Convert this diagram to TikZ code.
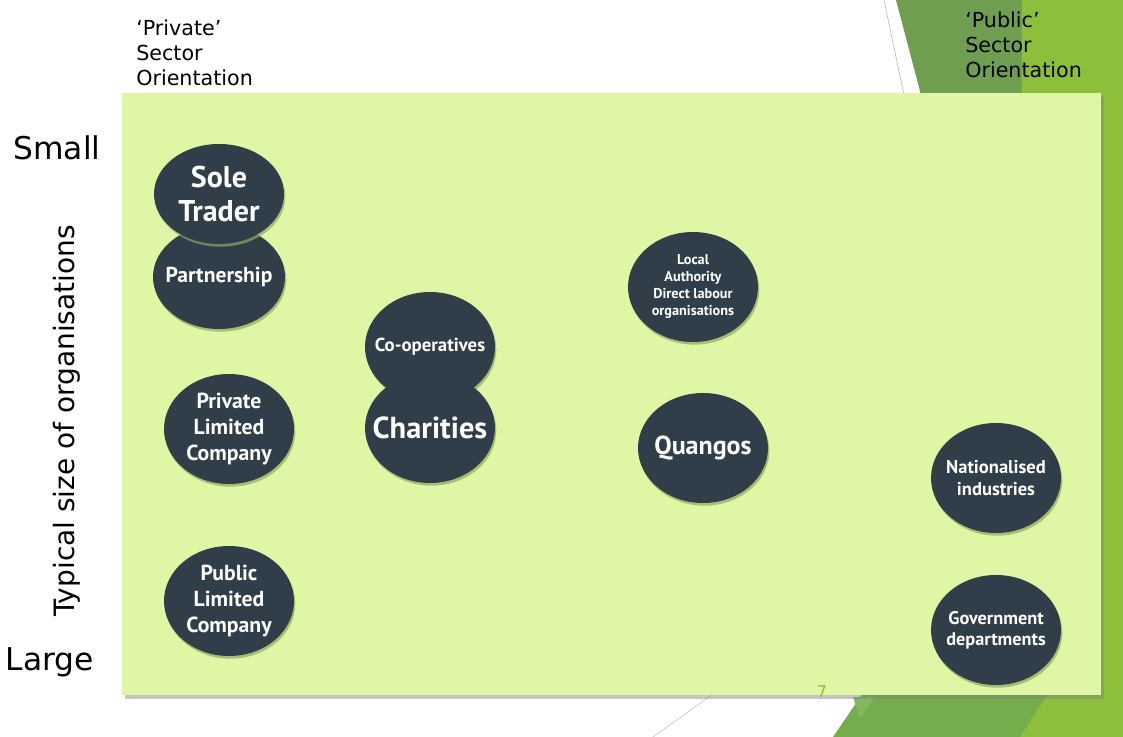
\documentclass[tikz,border=0pt]{standalone}
\usepackage{fontspec}
\setmainfont{DejaVu Sans}
\newfontfamily\ovalfont{PT Sans}
\usetikzlibrary{shapes.geometric,shadows}
\definecolor{slidelime}{HTML}{DFF7A5}
\definecolor{ovalslate}{HTML}{2F3E48}
\definecolor{leafdark}{HTML}{6F9E50}
\definecolor{leafmid}{HTML}{74AE4C}
\definecolor{leaflight}{HTML}{8DBF3A}
\definecolor{leafpale}{HTML}{82B85E}
\definecolor{shadegreen}{HTML}{8FA860}

\begin{document}
\begin{tikzpicture}[x=0.75pt,y=-0.75pt,
  orgoval/.style = {ellipse, fill=ovalslate, text=white, align=center,
    inner xsep=-12pt, inner ysep=0pt,
    minimum width=97.5pt, minimum height=82.5pt,
    drop shadow={shadow xshift=1pt, shadow yshift=-2pt, fill=shadegreen, opacity=0.7}},
  ovaltext/.style 2 args = {font=\ovalfont\bfseries\fontsize{#1}{#2}\selectfont},
  sidelabel/.style = {align=left, anchor=north west, inner sep=0pt,
    font=\fontsize{15.5}{18.4}\selectfont}]
\useasboundingbox (0,0) rectangle (1123,737);
\fill[white] (0,0) rectangle (1123,737);
% slide background
\draw[gray!60, thin] (884,0) -- (905,100);
\draw[gray!50, thin] (653,737) -- (716,692);
\fill[leafdark] (896,0) -- (1030,0) -- (1040,110) -- (925,110) -- cycle;
\fill[leaflight] (1022,0) -- (1123,0) -- (1123,737) -- (1020,737) -- cycle;
\fill[leafmid] (833,737) -- (865,690) -- (1050,690) -- (1020,737) -- cycle;
\fill[leafpale] (853,697) -- (875,697) -- (860,718) -- cycle;
% main panel
\fill[slidelime, drop shadow={shadow xshift=2pt, shadow yshift=-3pt, opacity=0.45}]
  (122,93) rectangle (1101,695);
\node[text=leaflight, font=\fontsize{12}{14}\selectfont] (pagenum) at (822,692) {7};
% axis labels
\node[sidelabel] (privlabel) at (136,20) {‘Private’\\Sector\\Orientation};
\node[sidelabel] (publabel) at (965,12) {‘Public’\\Sector\\Orientation};
\node[font=\fontsize{23.5}{28}\selectfont] (small) at (57,148) {Small};
\node[font=\fontsize{23.5}{28}\selectfont] (large) at (50,662) {Large};
\node[rotate=90, font=\fontsize{21}{25}\selectfont] (sizeaxis) at (67,421) {Typical size of organisations};
% organisations
\node[orgoval, minimum width=99pt, minimum height=78pt, ovaltext={16.2}{18}] (partner) at (219,277) {Partnership};
\node[orgoval, minimum height=75pt, ovaltext={22.5}{25.5}] (soletrader) at (219,194) {Sole\\Trader};
\node[orgoval, ovaltext={16.3}{19.5}] (privltd) at (229,429) {Private\\Limited\\Company};
\node[orgoval, ovaltext={16.3}{19.5}] (publtd) at (229,601) {Public\\Limited\\Company};
\node[orgoval, ovaltext={14.1}{16}] (coops) at (430,347) {Co-operatives};
\node[orgoval, ovaltext={22.8}{24}] (charities) at (430,428) {Charities};
\node[orgoval, ovaltext={10.7}{12.75}] (localauth) at (693,287) {Local\\Authority\\Direct labour\\organisations};
\node[orgoval, ovaltext={19.5}{20}] (quangos) at (703,448) {Quangos};
\node[orgoval, ovaltext={13.9}{16.5}] (nationalised) at (996,478) {Nationalised\\industries};
\node[orgoval, ovaltext={13.7}{16}] (govdept) at (996,630) {Government\\departments};
\end{tikzpicture}
\end{document}
